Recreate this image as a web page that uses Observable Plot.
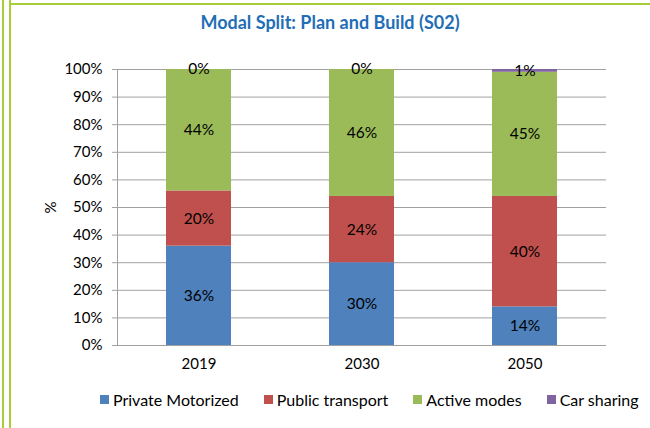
<!DOCTYPE html>
<html><head><meta charset="utf-8">
<script src="https://cdn.jsdelivr.net/npm/d3@7"></script>
<script src="https://cdn.jsdelivr.net/npm/@observablehq/plot@0.6"></script>
<style>
body{margin:0;background:#fff;}
#wrap{position:relative;width:650px;height:428px;overflow:hidden;font-family:Lato,sans-serif;background:#fff;}
.vline{position:absolute;top:0;bottom:0;width:2px;background:#A6CE39;}
.hline{position:absolute;top:3px;left:9px;right:0;height:2px;background:#A6CE39;}
#title{height:46px;line-height:44px;padding-left:10px;text-align:center;color:#1F6EB6;font-weight:bold;font-size:18px;}
#legend{display:flex;gap:25px;padding-left:100px;height:18px;align-items:center;font-size:16px;color:#000;}
#legend .item{display:flex;align-items:center;gap:4px;white-space:nowrap;}
#legend .sw{width:9px;height:9px;display:inline-block;}
</style></head><body>
<div id="wrap">
  <div id="title">Modal Split: Plan and Build (S02)</div>
  <div id="chart"></div>
  <div id="legend"></div>
  <div class="vline" style="left:2px"></div>
  <div class="vline" style="left:9px"></div>
  <div class="hline"></div>
</div>
<script>
const years = ["2019", "2030", "2050"];
const modes = ["Private Motorized", "Public transport", "Active modes", "Car sharing"];
const colors = ["#4F81BD", "#C0504D", "#9BBB59", "#8064A2"];
const privateMotorized = [36, 30, 14];
const publicTransport = [20, 24, 40];
const activeModes = [44, 46, 45];
const carSharing = [0, 0, 1];
const yTicks = [0, 10, 20, 30, 40, 50, 60, 70, 80, 90, 100];

const series = [privateMotorized, publicTransport, activeModes, carSharing];
const rows = [];
years.forEach((year, i) => {
  modes.forEach((mode, j) => rows.push({year, mode, value: series[j][i]}));
});

const chart = Plot.plot({
  width: 650,
  height: 344,
  marginTop: 23,
  marginBottom: 45,
  marginLeft: 117,
  marginRight: 44,
  style: {fontFamily: "Lato, sans-serif", fontSize: "15px", color: "#000", background: "transparent"},
  x: {domain: years, padding: 0, label: null},
  y: {domain: [0, 100], label: null},
  color: {domain: modes, range: colors},
  marks: [
    Plot.gridY(yTicks, {stroke: "#A0A0A0", strokeOpacity: 1}),
    Plot.barY(rows, {x: "year", y: "value", fill: "mode", insetLeft: 49, insetRight: 49}),
    Plot.text(rows, Plot.stackY({x: "year", y: "value", text: d => d.value + "%", fill: "#000", fontSize: 15.5})),
    Plot.ruleY([0], {stroke: "#A0A0A0"}),
    Plot.frame({anchor: "left", stroke: "#A0A0A0"}),
    Plot.axisY({ticks: yTicks, tickFormat: d => d + "%", tickSize: 5, tickPadding: 10, stroke: "#A0A0A0", fill: "#000", fontSize: 15,
      label: "%", labelAnchor: "center", labelArrow: "none", labelOffset: 72}),
    Plot.axisX({tickSize: 0, tickPadding: 13, fill: "#000", fontSize: 15})
  ]
});
document.getElementById("chart").appendChild(chart);

const legend = document.getElementById("legend");
modes.forEach((m, i) => {
  const item = document.createElement("div");
  item.className = "item";
  const sw = document.createElement("span");
  sw.className = "sw";
  sw.style.background = colors[i];
  const t = document.createElement("span");
  t.textContent = m;
  item.appendChild(sw);
  item.appendChild(t);
  legend.appendChild(item);
});
</script>
</body></html>
